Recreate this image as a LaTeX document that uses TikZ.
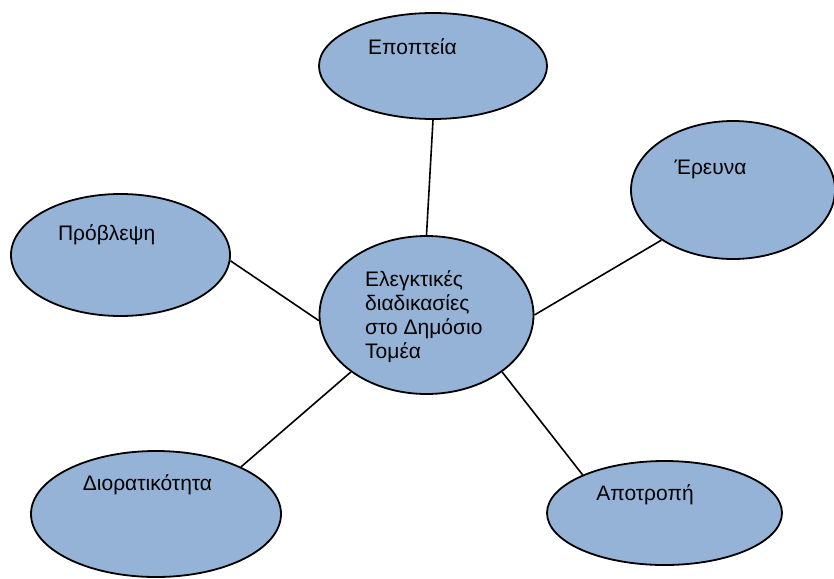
\documentclass[tikz,border=0pt]{standalone}
\usepackage{fontspec}
\setmainfont{Liberation Sans}
\usetikzlibrary{shapes}
\definecolor{bubbleblue}{HTML}{95B3D7}

\begin{document}
\begin{tikzpicture}[x=1pt,y=-1pt]
	\tikzstyle{every node}+=[inner sep=0pt]
	\tikzstyle{bubble}=[ellipse,draw=black,line width=1.8pt,fill=bubbleblue]
	\tikzstyle{word}=[anchor=base,font=\fontsize{21}{24}\selectfont]
	\useasboundingbox (0,0) rectangle (834,578);
	\node [bubble,minimum width=214,minimum height=158] (c) at (426.5,315) {};
	\node [word,anchor=base west,align=left] (c-txt) at (365,358) {Ελεγκτικές\\διαδικασίες\\στο Δημόσιο\\Τομέα};
	\node [bubble,minimum width=228,minimum height=106] (epopteia) at (433,66) {};
	\node [word] (epopteia-txt) at (412.5,55) {Εποπτεία};
	\node [bubble,minimum width=204,minimum height=138] (erevna) at (733,190) {};
	\node [word] (erevna-txt) at (710.5,174) {Έρευνα};
	\node [bubble,minimum width=219,minimum height=122] (provlepsi) at (120.5,255) {};
	\node [word] (provlepsi-txt) at (106.7,240) {Πρόβλεψη};
	\node [bubble,minimum width=250,minimum height=126] (dior) at (156,514) {};
	\node [word] (dior-txt) at (147.5,490) {Διορατικότητα};
	\node [bubble,minimum width=235,minimum height=104] (apotropi) at (664.5,513) {};
	\node [word] (apotropi-txt) at (645,500.7) {Αποτροπή};
	\draw [black,line width=1.6pt] (c.90) -- (epopteia.-90);
	\draw [black,line width=1.6pt] (c.183) -- (provlepsi.-3);
	\draw [black,line width=1.6pt] (c.0) -- (erevna.215);
	\draw [black,line width=1.6pt] (c.217) -- (dior.29);
	\draw [black,line width=1.6pt] (c.323) -- (apotropi.155);
\end{tikzpicture}
\end{document}
